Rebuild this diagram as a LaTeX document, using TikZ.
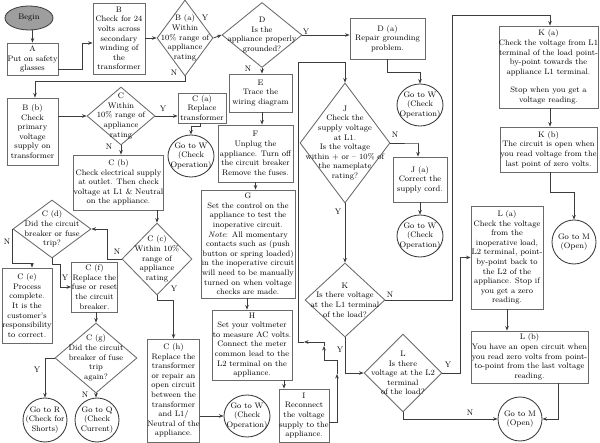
\documentclass[tikz,border=0pt]{standalone}
\usetikzlibrary{shapes.geometric,arrows.meta}
\newcommand\myfs{\fontsize{8}{9.6}\selectfont}
\definecolor{lncol}{HTML}{3C3C3C}
\definecolor{bdcol}{HTML}{6A6A6A}
\begin{document}
\begin{tikzpicture}[x=1pt,y=-1pt,
  ln/.style={draw=lncol, line width=0.8pt},
  arr/.style={ln, -{Stealth[length=4.5pt,width=3.6pt]}},
  box/.style={draw=bdcol, line width=0.85pt, rectangle, inner sep=0pt, align=center, font=\myfs},
  dia/.style={draw=bdcol, line width=0.85pt, diamond, inner sep=0pt},
  dtxt/.style={align=center, font=\myfs, inner sep=0pt},
  gow/.style={draw=lncol, line width=0.85pt, ellipse, inner sep=0pt, minimum width=46, minimum height=42},
  goc/.style={draw=lncol, line width=0.85pt, circle, inner sep=0pt, minimum size=44},
  yn/.style={font=\myfs, inner sep=0pt}]
\fill[white] (0,0) rectangle (600,443);
\useasboundingbox (0,0) rectangle (600,443);

% ---- nodes ----
\node[draw=lncol, line width=0.8pt, fill=black!38, ellipse, inner sep=0pt, minimum width=48, minimum height=24, font=\myfs] (Begin) at (29,18) {Begin};
\node[box, minimum width=51, minimum height=32] (A) at (32.5,59) {A\\Put on safety\\glasses};
\node[box, minimum width=52, minimum height=71] (B) at (119,38.5) {B\\Check for 24\\volts across\\secondary\\winding of\\the\\transformer};
\node[dia, minimum width=56, minimum height=76, label={[dtxt]center:{B (a)\\Within\\10\% range of\\appliance\\rating}}] (Ba) at (185,38) {};
\node[dia, minimum width=80, minimum height=65, label={[dtxt]center:{D\\Is the\\appliance properly\\grounded?}}] (D) at (262,35) {};
\node[box, minimum width=75, minimum height=41] (Da) at (387.5,38.5) {D (a)\\Repair grounding\\problem.};
\node[gow, label={[dtxt]center:{Go to W\\(Check\\Operation)}}] (GoWD) at (420,105) {};
\node[box, minimum width=63, minimum height=38] (E) at (260.5,93) {E\\Trace the\\wiring diagram};
\node[box, minimum width=75, minimum height=57] (F) at (255.5,153.5) {F\\Unplug the\\appliance. Turn off\\the circuit breaker\\Remove the fuses.};
\node[box, minimum width=94, minimum height=108] (G) at (248,244) {G\\Set the control on the\\appliance to test the\\inoperative circuit.\\\textit{Note}: All momentary\\contacts such as (push\\button or spring loaded)\\in the inoperative circuit\\will need to be manually\\turned on when voltage\\checks are made.};
\node[box, minimum width=80, minimum height=70] (H) at (252,345) {H\\Set your voltmeter\\to measure AC volts.\\Connect the meter\\common lead to the\\L2 terminal on the\\appliance.};
\node[box, minimum width=50, minimum height=53] (I) at (304,415.5) {I\\Reconnect\\the voltage\\supply to the\\appliance.};
\node[dia, minimum width=90, minimum height=120, label={[dtxt]center:{J\\Check the\\supply voltage\\at L1.\\Is the voltage\\within + or -- 10\% of\\the nameplate\\rating?}}] (J) at (345,143) {};
\node[box, minimum width=54, minimum height=45] (Ja) at (420,179.5) {J (a)\\Correct the\\supply cord.};
\node[gow, label={[dtxt]center:{Go to W\\(Check\\Operation)}}] (GoWJ) at (420,236) {};
\node[dia, minimum width=80, minimum height=74, label={[dtxt]center:{K\\Is there voltage\\at the L1 terminal\\of the load?}}] (K) at (345,300) {};
\node[box, minimum width=97, minimum height=82] (Ka) at (548.5,67) {K (a)\\Check the voltage from L1\\terminal of the load point-\\by-point towards the\\appliance L1 terminal.\\[9pt]Stop when you get a\\voltage reading.};
\node[box, minimum width=97, minimum height=45] (Kb) at (548.5,149.5) {K (b)\\The circuit is open when\\you read voltage from the\\last point of zero volts.};
\node[goc, label={[dtxt]center:{Go to M\\(Open)}}] (GoMK) at (574,242) {};
\node[dia, minimum width=78, minimum height=78, label={[dtxt]center:{L\\Is there\\voltage at the L2\\terminal\\of the load?}}] (L) at (403,373) {};
\node[box, minimum width=72, minimum height=103] (La) at (507,257.5) {L (a)\\Check the voltage\\from the\\inoperative load,\\L2 terminal, point-\\by-point back to\\the L2 of the\\appliance. Stop if\\you get a zero\\reading.};
\node[box, minimum width=117, minimum height=52] (Lb) at (529.5,357) {L (b)\\You have an open circuit when\\you read zero volts from point-\\to-point from the last voltage\\reading.};
\node[goc, label={[dtxt]center:{Go to M\\(Open)}}] (GoML) at (520,419) {};
\node[box, minimum width=51, minimum height=67] (Bb) at (32.5,131.5) {B (b)\\Check\\primary\\voltage\\supply on\\transformer};
\node[dia, minimum width=68, minimum height=58, label={[dtxt]center:{C\\Within\\10\% range of\\appliance\\rating}}] (C) at (121,116) {};
\node[box, minimum width=48, minimum height=30] (Ca) at (202,108) {C (a)\\Replace\\transformer};
\node[gow, label={[dtxt]center:{Go to W\\(Check\\Operation)}}] (GoWC) at (191,156) {};
\node[box, minimum width=89, minimum height=55] (Cb) at (118.5,182.5) {C (b)\\Check electrical supply\\at outlet. Then check\\voltage at L1 \& Neutral\\on the appliance.};
\node[dia, minimum width=70, minimum height=72, label={[dtxt]center:{C (c)\\Within 10\%\\range of\\appliance\\rating}}] (Cc) at (157,259) {};
\node[dia, minimum width=78, minimum height=58, label={[dtxt]center:{C (d)\\Did the circuit\\breaker or fuse\\trip?}}] (Cd) at (52,229) {};
\node[box, minimum width=50, minimum height=75] (Ce) at (27,305.5) {C (e)\\Process\\complete.\\It is the\\customer's\\responsibility\\to correct.};
\node[box, minimum width=46, minimum height=50] (Cf) at (94.5,287) {C (f)\\Replace the\\fuse or reset\\the circuit\\breaker.};
\node[dia, minimum width=82, minimum height=70, label={[dtxt]center:{C (g)\\Did the circuit\\breaker of fuse\\trip\\again?}}] (Cg) at (96,358) {};
\node[goc, label={[dtxt]center:{Go to R\\(Check for\\Shorts)}}] (GoR) at (45,420) {};
\node[goc, label={[dtxt]center:{Go to Q\\(Check\\Current)}}] (GoQ) at (97,420) {};
\node[box, minimum width=51, minimum height=103] (Ch) at (173.5,390.5) {C (h)\\Replace the\\transformer\\or repair an\\open circuit\\between the\\transformer\\and L1/\\Neutral of the\\appliance.};
\node[gow, label={[dtxt]center:{Go to W\\(Check\\Operation)}}] (GoWH) at (247,416) {};

% ---- Y / N labels ----
\node[yn] (tBaY) at (205,18) {Y};
\node[yn] (tBaN) at (174,73) {N};
\node[yn] (tDY) at (306,32) {Y};
\node[yn] (tDN) at (248,69) {N};
\node[yn] (tCY) at (163,109) {Y};
\node[yn] (tCN) at (109,147) {N};
\node[yn] (tCcN) at (117,252) {N};
\node[yn] (tCcY) at (174,289) {Y};
\node[yn] (tCdN) at (7,242) {N};
\node[yn] (tCdY) at (65,278) {Y};
\node[yn] (tCgY) at (37,370) {Y};
\node[yn] (tCgN) at (85,395) {N};
\node[yn] (tJN) at (395,135) {N};
\node[yn] (tJY) at (338,212) {Y};
\node[yn] (tKN) at (390,295) {N};
\node[yn] (tKY) at (340,350) {Y};
\node[yn] (tLY) at (448,365) {Y};
\node[yn] (tLN) at (470,413) {N};

% ---- connectors ----
\draw[arr] (A.north |- Begin.south) -- (A.north);
\draw[arr] ([yshift=-10pt]A.east) -- ++(24,0) |- ([yshift=-4.5pt]B.west);
\draw[arr] (B.east |- Ba.west) -- (Ba.west);
\draw[arr] (Ba.south) -- ++(0,5) -| ([xshift=2.5pt]Bb.north);
\draw[arr] (Ba.east) -- (D.west);
\draw[arr] (D.east) -- (D.east -| Da.west);
\draw[arr] (Da.south) -- ++(0,13) -| (GoWD.north);
\draw[arr] (D.south) -- (D.south |- E.north);
\draw[arr] ([xshift=1.5pt]E.south) -- ([xshift=1.5pt]E.south |- F.north);
\draw[arr] (F.south) -- (F.south |- G.north);
\draw[arr] ([xshift=-1pt]G.south) -- ([xshift=-1pt]G.south |- H.north);
\draw[arr] ([xshift=32pt]H.south) -- ([xshift=32pt]H.south |- I.north);
% I -> J (with intermediate arrowheads)
\coordinate (i1) at (337,374);
\coordinate (i2) at (324,346);
\coordinate (i3) at (304,342);
\coordinate (i4) at (298,62);
\draw[arr] ([yshift=-6.5pt]I.east) -| (i1);
\draw[arr] (i1) -- (337,360) -| (i2);
\draw[arr] (i2) |- (i3);
\draw[arr] (i3) -| (i4) -| (J.north);
\draw[arr] (J.east) -- ++(28,0) -| ([xshift=-2pt]Ja.north);
\draw[arr] (Ja.south) -- (GoWJ.north);
\draw[arr] (J.south) -- (K.north);
\coordinate (kk) at (452,15);
\draw[arr] (K.east) -| (kk) -| ([xshift=1.5pt]Ka.north);
\draw[arr] ([xshift=1.5pt]Ka.south) -- ([xshift=1.5pt]Kb.north);
\draw[arr] ([xshift=1.5pt]Kb.south) -- ++(0,20) -| (GoMK.north);
\draw[arr] (K.south) |- (L.west);
\draw[arr] (L.east) -- ++(18,0) |- (La.west);
\draw[arr] (La.south) -- (La.south |- Lb.north);
\draw[arr] ([xshift=28.5pt]Lb.south) |- (GoML.east);
\draw[arr] (L.south) |- (GoML.west);
\draw[arr] ([yshift=15.5pt]Bb.east) -- (C.west);
\draw[arr] (C.east) -- (C.east -| Ca.west);
\draw[arr] ([xshift=-2pt]Ca.south) -- ++(0,3) -| (GoWC.north);
\draw[arr] (C.south) -- (C.south |- Cb.north);
\draw[arr] (Cc.north |- Cb.south) -- (Cc.north);
\draw[arr] (Cc.west) -- ++(-14,0) |- (Cd.east);
\draw[arr] (Cd.west) -- ++(0,34) -| ([xshift=5pt]Ce.north);
\draw[arr] (Cd.south) -- ++(0,6) -- ++(8,0) |- (Cf.west);
\draw[arr] (Cg.north |- Cf.south) -- (Cg.north);
\draw[arr] (Cg.west) -| (GoR.north);
\draw[arr] (Cg.south) -- (Cg.south |- GoQ.north);
\draw[arr] (Cc.south) -- ++(0,5) -| (Ch.north);
\draw[arr] (Ch.east |- GoWH.west) -- (GoWH.west);
\end{tikzpicture}
\end{document}
